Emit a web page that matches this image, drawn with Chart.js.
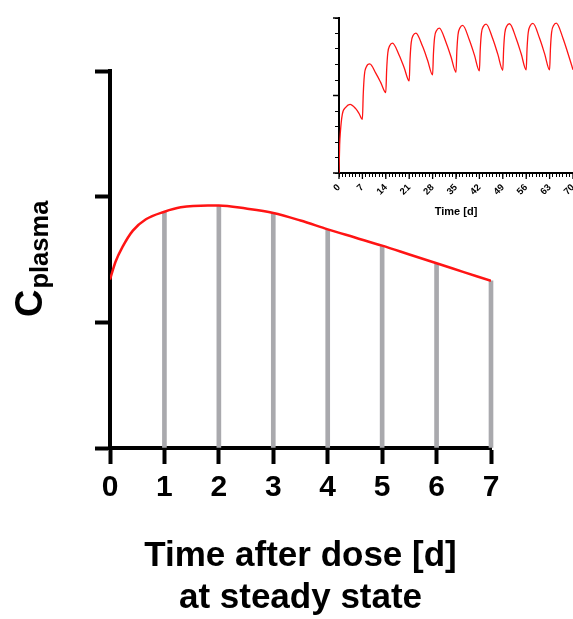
<!DOCTYPE html>
<html>
<head>
<meta charset="utf-8">
<script src="https://cdn.jsdelivr.net/npm/chart.js@4/dist/chart.umd.min.js"></script>
<style>
  body { margin: 0; background: #fff; }
  #wrap { position: relative; width: 573px; height: 619px; }
  canvas { position: absolute; top: 0; }
</style>
</head>
<body>
<div id="wrap">
  <canvas id="main" width="573" height="619" style="left:0"></canvas>
  <canvas id="inset" width="283" height="230" style="left:290px"></canvas>
</div>
<script>
// main panel: one dosing interval at steady state
const mainDays = [0, 0.1, 0.23, 0.42, 0.66, 1, 1.3, 1.8, 2, 2.5, 3, 3.5, 4, 4.5, 5, 5.5, 6, 6.5, 7];
const mainConc = [1.34, 1.48, 1.60, 1.73, 1.82, 1.88, 1.915, 1.93, 1.93, 1.905, 1.87, 1.81, 1.74, 1.675, 1.61, 1.54, 1.47, 1.40, 1.33];
const barDays = [1, 2, 3, 4, 5, 6, 7];
const barConc = [1.88, 1.93, 1.87, 1.74, 1.61, 1.47, 1.33];
const xTitle = ["Time after dose [d]", "at steady state"];

// inset: weekly dosing up to day 70
const insetDays = [0, 0.2, 0.4, 1, 2, 3.3, 5, 6,
  7, 7.25, 7.6, 8.2, 9.2, 11, 12.5,
  14, 14.25, 14.6, 15.2, 16, 18, 19.5,
  21, 21.25, 21.6, 22.2, 23, 25, 26.5,
  28, 28.25, 28.6, 29.2, 30, 32, 33.5,
  35, 35.25, 35.6, 36.2, 37, 39, 40.5,
  42, 42.25, 42.6, 43.2, 44, 46, 47.5,
  49, 49.25, 49.6, 50.2, 51, 53, 54.5,
  56, 56.25, 56.6, 57.2, 58, 60, 61.5,
  63, 63.25, 63.6, 64.2, 65, 67, 68.5, 70];
const insetConc = [0, 1.8, 2.6, 3.8, 4.23, 4.43, 4.15, 3.84,
  3.46, 5.07, 6.32, 6.86, 7.04, 6.44, 5.83,
  5.18, 6.62, 7.74, 8.22, 8.38, 7.60, 6.79,
  5.94, 7.33, 8.41, 8.88, 9.03, 8.17, 7.28,
  6.33, 7.69, 8.75, 9.20, 9.35, 8.44, 7.50,
  6.50, 7.86, 8.92, 9.37, 9.52, 8.58, 7.62,
  6.59, 7.95, 9.01, 9.46, 9.61, 8.66, 7.67,
  6.63, 7.98, 9.03, 9.48, 9.63, 8.68, 7.69,
  6.65, 8.00, 9.05, 9.50, 9.65, 8.69, 7.70,
  6.65, 8.01, 9.07, 9.52, 9.67, 8.70, 7.71, 6.66];
const insetTicks = [0, 7, 14, 21, 28, 35, 42, 49, 56, 63, 70];
const insetMajorY = [0, 5, 10];

const family = "'Liberation Sans', Arial, sans-serif";
Chart.defaults.font.family = family;
Chart.defaults.color = "#000";

const pts = (xs, ys) => xs.map((x, i) => ({ x: x, y: ys[i] }));

// rotated axis title with a subscript (C_plasma)
function subTitle(o) {
  return {
    id: "subTitle",
    afterDraw(chart) {
      const ctx = chart.ctx;
      ctx.save();
      ctx.translate(o.left, o.base);
      ctx.rotate(-Math.PI / 2);
      ctx.fillStyle = "#000";
      ctx.textAlign = "left";
      ctx.textBaseline = "alphabetic";
      ctx.font = "bold " + o.size + "px " + family;
      ctx.fillText(o.text, 0, 0);
      const w = ctx.measureText(o.text).width;
      ctx.font = "bold " + o.subSize + "px " + family;
      ctx.fillText(o.sub, w + o.gap, o.drop);
      ctx.restore();
    }
  };
}

// longer tick marks at the major values of the inset
function majorTicks(xValues, yValues, len) {
  return {
    id: "majorTicks",
    afterDraw(chart) {
      const ctx = chart.ctx;
      const sx = chart.scales.x, sy = chart.scales.y;
      ctx.save();
      ctx.strokeStyle = "#000";
      ctx.lineWidth = 1.3;
      ctx.beginPath();
      xValues.forEach(v => {
        const px = sx.getPixelForValue(v);
        ctx.moveTo(px, sx.top);
        ctx.lineTo(px, sx.top + len);
      });
      yValues.forEach(v => {
        const py = sy.getPixelForValue(v);
        ctx.moveTo(sy.right - len, py);
        ctx.lineTo(sy.right, py);
      });
      ctx.stroke();
      ctx.restore();
    }
  };
}

new Chart(document.getElementById("main"), {
  type: "line",
  data: {
    datasets: [
      {
        type: "line",
        data: pts(mainDays, mainConc),
        borderColor: "#ff1414",
        borderWidth: 2.5,
        pointRadius: 0,
        cubicInterpolationMode: "monotone",
        order: 0
      },
      {
        type: "bar",
        data: pts(barDays, barConc),
        backgroundColor: "#a9a9ad",
        barThickness: 4,
        clip: false,
        order: 1
      }
    ]
  },
  options: {
    responsive: false,
    animation: false,
    layout: { padding: { top: 71, right: 82, left: 0, bottom: 0 } },
    plugins: { legend: { display: false }, tooltip: { enabled: false } },
    scales: {
      x: {
        type: "linear",
        min: 0,
        max: 7,
        offset: false,
        grid: { offset: false, drawOnChartArea: false, tickLength: 16, tickWidth: 4, tickColor: "#000" },
        border: { color: "#000", width: 4 },
        ticks: { stepSize: 1, color: "#000", maxRotation: 0, padding: 6, font: { size: 30, weight: "bold" } },
        title: { display: true, text: xTitle, color: "#000", padding: 0, font: { size: 35, weight: "bold", lineHeight: 1.2 } },
        afterFit: s => { s.height = 171; s.paddingLeft = 0; s.paddingRight = 0; }
      },
      y: {
        min: 0,
        max: 3,
        grid: { drawOnChartArea: false, tickLength: 15, tickWidth: 4, tickColor: "#000" },
        border: { color: "#000", width: 4 },
        ticks: { display: false, stepSize: 1 },
        afterFit: s => { s.width = 110; s.paddingTop = 0; s.paddingBottom = 0; }
      }
    }
  },
  plugins: [subTitle({ text: "C", sub: "plasma", left: 42, base: 317, size: 38, subSize: 25.5, gap: 1, drop: 6 })]
});

new Chart(document.getElementById("inset"), {
  type: "line",
  data: {
    datasets: [{
      data: pts(insetDays, insetConc),
      borderColor: "#ff1414",
      borderWidth: 1.3,
      pointRadius: 0,
      cubicInterpolationMode: "monotone"
    }]
  },
  options: {
    responsive: false,
    animation: false,
    layout: { padding: { top: 18, right: 0, left: 0, bottom: 0 } },
    plugins: { legend: { display: false }, tooltip: { enabled: false } },
    scales: {
      x: {
        type: "linear",
        min: 0,
        max: 70,
        grid: { drawOnChartArea: false, tickLength: 4, tickWidth: 1, tickColor: "#000" },
        border: { color: "#000", width: 2 },
        ticks: {
          stepSize: 1,
          autoSkip: false,
          minRotation: 45,
          maxRotation: 45,
          padding: 5,
          color: "#000",
          font: { size: 9.5, weight: "bold" },
          callback: v => insetTicks.includes(v) ? String(v) : ""
        },
        title: { display: true, text: "Time [d]", color: "#000", padding: { top: 0, bottom: 11 }, font: { size: 11, weight: "bold" } },
        afterFit: s => { s.height = 57; s.paddingLeft = 0; s.paddingRight = 0; }
      },
      y: {
        min: 0,
        max: 10,
        grid: { drawOnChartArea: false, tickLength: 4, tickWidth: 1, tickColor: "#000" },
        border: { color: "#000", width: 2 },
        ticks: { display: false, stepSize: 1 },
        afterFit: s => { s.width = 49; s.paddingTop = 0; s.paddingBottom = 0; }
      }
    }
  },
  plugins: [
    majorTicks(insetTicks, insetMajorY, 6),
    subTitle({ text: "C", sub: "plasma", left: 315, base: 115, size: 15, subSize: 7.5, gap: 0.5, drop: 3 })
  ]
});
</script>
</body>
</html>
